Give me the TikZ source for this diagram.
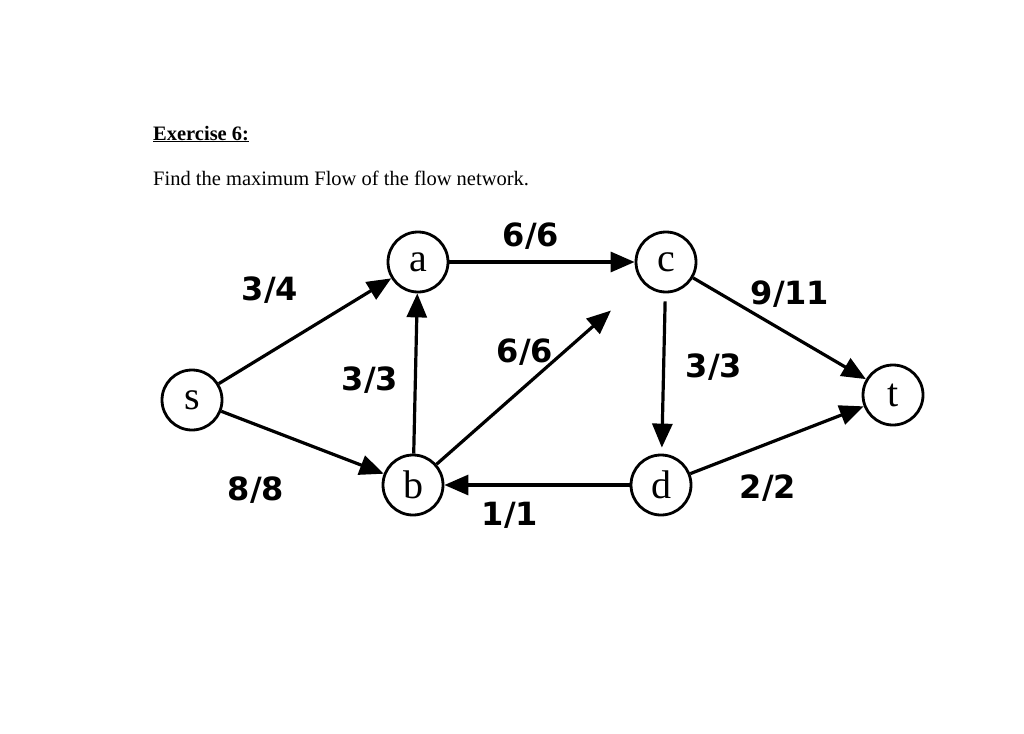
\documentclass[tikz,border=0pt]{standalone}
\usepackage{fontspec}
\setmainfont{Liberation Serif}
\newfontfamily\lblfont{DejaVu Sans}
\usetikzlibrary{arrows.meta}
\tikzset{
  vtx/.style={circle,draw,line width=2.8pt,minimum size=60pt,inner sep=0pt,font=\fontsize{40}{40}\selectfont},
  edge/.style={line width=3.2pt,-{Triangle[length=24pt,width=20pt]}},
  lbl/.style={font=\lblfont\fontsize{32}{32}\selectfont\bfseries}
}
\begin{document}
\begin{tikzpicture}[x=1pt,y=-1pt]
\useasboundingbox (0,0) rectangle (1024,733);
\node[anchor=base west,inner sep=0pt,font=\fontsize{20.5}{20.5}\selectfont\bfseries] (title) at (153,140) {\underline{Exercise 6:}};
\node[anchor=base west,inner sep=0pt,font=\fontsize{20.5}{20.5}\selectfont] (task) at (153,185) {Find the maximum Flow of the flow network.};
\node[vtx] (s) at (192,400) {s};
\node[vtx] (a) at (418,262) {a};
\node[vtx] (b) at (413,485) {b};
\node[vtx] (c) at (666,262) {c};
\node[vtx] (d) at (661,485) {d};
\node[vtx] (t) at (893,395) {t};
\draw[edge] (s) -- (a);
\draw[edge] (s) -- (b);
\draw[edge] (b) -- (a);
\draw[edge] (a) -- (c);
\draw[edge,shorten >=42pt] (b) -- (c);
\draw[edge,shorten <=8pt,shorten >=6pt] (c) -- (d);
\draw[edge] (d) -- (b);
\draw[edge] (c) -- (t);
\draw[edge] (d) -- (t);
\node[lbl] (l1) at (270,290) {3/4};
\node[lbl] (l2) at (531,236) {6/6};
\node[lbl] (l3) at (790,294) {9/11};
\node[lbl] (l4) at (525,352) {6/6};
\node[lbl] (l5) at (370,380) {3/3};
\node[lbl] (l6) at (714,367) {3/3};
\node[lbl] (l7) at (256,490) {8/8};
\node[lbl] (l8) at (510,515) {1/1};
\node[lbl] (l9) at (768,488) {2/2};
\end{tikzpicture}
\end{document}
